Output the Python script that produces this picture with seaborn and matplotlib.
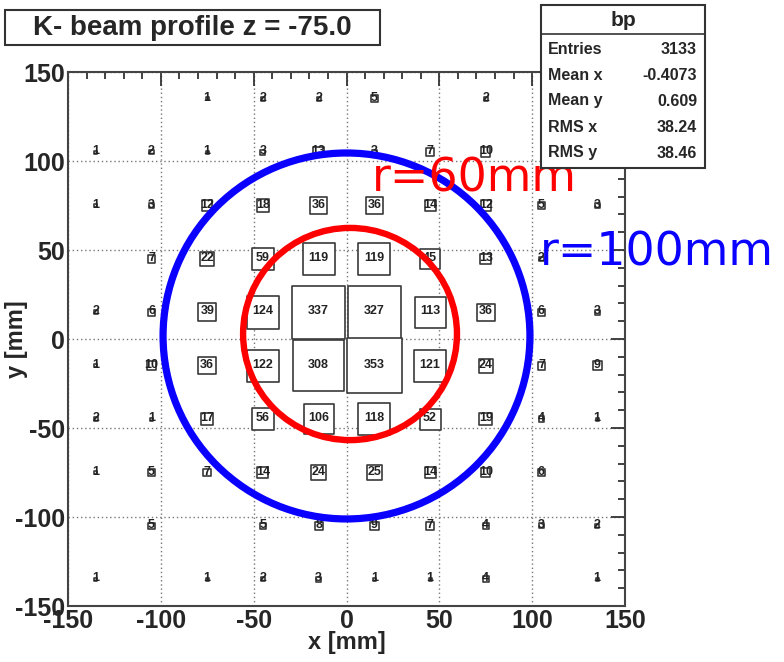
import numpy as np
import pandas as pd
import matplotlib
matplotlib.use("Agg")
import matplotlib.pyplot as plt
from matplotlib.patches import Ellipse, Rectangle
from matplotlib.ticker import MultipleLocator
import seaborn as sns

# ---- data ----
x_centers = [-135, -105, -75, -45, -15, 15, 45, 75, 105, 135]
y_centers = [135, 105, 75, 45, 15, -15, -45, -75, -105, -135]
row_135 = [0, 0, 1, 2, 2, 5, 0, 2, 0, 0]
row_105 = [1, 2, 1, 3, 13, 3, 7, 10, 0, 0]
row_75 = [1, 3, 12, 18, 36, 36, 14, 12, 5, 3]
row_45 = [0, 7, 22, 59, 119, 119, 45, 13, 2, 0]
row_15 = [2, 6, 39, 124, 337, 327, 113, 36, 6, 3]
row_m15 = [1, 10, 36, 122, 308, 353, 121, 24, 7, 9]
row_m45 = [2, 1, 17, 56, 106, 118, 52, 19, 4, 1]
row_m75 = [1, 5, 7, 14, 24, 25, 14, 10, 6, 0]
row_m105 = [0, 5, 0, 5, 8, 9, 7, 4, 3, 2]
row_m135 = [1, 0, 1, 2, 3, 1, 1, 4, 0, 1]
rows = [row_135, row_105, row_75, row_45, row_15, row_m15, row_m45, row_m75, row_m105, row_m135]

title = "K- beam profile z = -75.0"
stats_name = "bp"
stats_labels = ["Entries", "Mean x", "Mean y", "RMS x", "RMS y"]
stats_values = ["3133", "-0.4073", "0.609", "38.24", "38.46"]
circle_labels = ["r=60mm", "r=100mm"]

recs = []
for yc, r in zip(y_centers, rows):
    for xc, v in zip(x_centers, r):
        if v > 0:
            recs.append({"x": xc, "y": yc, "n": v})
df = pd.DataFrame(recs)

# ---- figure ----
sns.set_theme(style="white")
plt.rcParams["font.family"] = ["Liberation Sans", "DejaVu Sans"]
plt.rcParams["axes.unicode_minus"] = False

W, H = 784, 662
fig = plt.figure(figsize=(W / 100, H / 100), dpi=100)
L, R, T, B = 68, 625, 72, 606
ax = fig.add_axes([L / W, 1 - B / H, (R - L) / W, (B - T) / H])

vmax = df["n"].max()
sns.scatterplot(data=df, x="x", y="y", size="n", sizes=(0, 1560), size_norm=(0, vmax),
                marker="s", color="white", edgecolor="#3a3a3a", linewidth=1.2,
                legend=False, ax=ax, zorder=3)

for _, rw in df.iterrows():
    ax.text(rw["x"], rw["y"] + 0.5, str(int(rw["n"])), ha="center", va="center",
            fontsize=9, fontweight="bold", color="#222222", zorder=4)

ax.set_xlim(-150, 150)
ax.set_ylim(-150, 150)
ax.xaxis.set_major_locator(MultipleLocator(50))
ax.yaxis.set_major_locator(MultipleLocator(50))
ax.xaxis.set_minor_locator(MultipleLocator(10))
ax.yaxis.set_minor_locator(MultipleLocator(10))
ax.tick_params(which="both", direction="in", top=True, right=True, color="#333333", width=1.3)
ax.tick_params(which="major", length=10, labelsize=18, pad=2)
ax.tick_params(which="minor", length=5)
for lab in ax.get_xticklabels() + ax.get_yticklabels():
    lab.set_fontweight("bold")
ax.grid(True, which="major", linestyle=(0, (1, 2)), color="#777777", linewidth=1)
for s in ax.spines.values():
    s.set_color("#444444")
    s.set_linewidth(1.5)
ax.set_xlabel("x [mm]", fontsize=17, fontweight="bold")
ax.set_ylabel("y [mm]", fontsize=17, fontweight="bold")
ax.xaxis.set_label_coords(0.5, -(631 - B) / (B - T))
ax.yaxis.set_label_coords(-(L - 28) / (R - L), 0.5)

# circles
ax.add_patch(Ellipse((0, 1.7), 197.6, 205.6, fill=False, edgecolor="#0a00ff", linewidth=5.2, zorder=5))
ax.add_patch(Ellipse((1.9, 2.8), 115.2, 119.2, fill=False, edgecolor="#ff0000", linewidth=4.6, zorder=5))
fig.text(372 / W, 1 - 191 / H, circle_labels[0], color="#ff0000", fontsize=33,
         family="DejaVu Sans", ha="left", va="baseline", zorder=6)
fig.text(540 / W, 1 - 265 / H, circle_labels[1], color="#0a00ff", fontsize=33,
         family="DejaVu Sans", ha="left", va="baseline", zorder=6)

# title box
fig.patches.append(Rectangle((5 / W, 1 - 45 / H), 375 / W, 35 / H, transform=fig.transFigure,
                             facecolor="white", edgecolor="#333333", linewidth=1.5, zorder=8))
fig.text(192 / W, 1 - 28 / H, title, fontsize=20, fontweight="bold", ha="center", va="center", zorder=9)

# stats box
sx0, sx1, sy0, sy1 = 541, 705, 5, 168
fig.patches.append(Rectangle((sx0 / W, 1 - sy1 / H), (sx1 - sx0) / W, (sy1 - sy0) / H,
                             transform=fig.transFigure, facecolor="white", edgecolor="#333333",
                             linewidth=1.5, zorder=10))
fig.add_artist(plt.Line2D([sx0 / W, sx1 / W], [1 - 34 / H, 1 - 34 / H], transform=fig.transFigure,
                          color="#333333", linewidth=1.2, zorder=11))
fig.text((sx0 + sx1) / 2 / W, 1 - 20 / H, stats_name, fontsize=15, fontweight="bold",
         ha="center", va="center", zorder=11)
for i, (lab, val) in enumerate(zip(stats_labels, stats_values)):
    yy = 1 - (49 + i * 26) / H
    fig.text(548 / W, yy, lab, fontsize=11.5, fontweight="bold", ha="left", va="center", zorder=11)
    fig.text(697 / W, yy, val, fontsize=11.5, fontweight="bold", ha="right", va="center", zorder=11)

fig.savefig("out.png", dpi=100)
